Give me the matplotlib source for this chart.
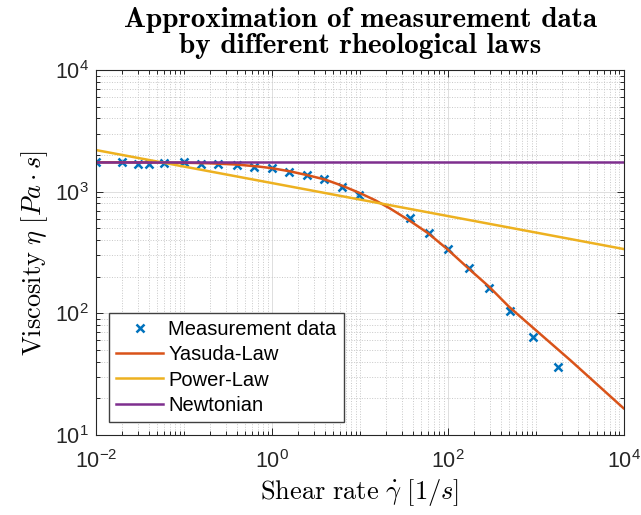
import matplotlib
matplotlib.use("Agg")
import matplotlib.pyplot as plt
from matplotlib.ticker import FixedLocator, FixedFormatter, LogLocator, NullFormatter
import numpy as np

# measured points (shear rate [1/s], viscosity [Pa s])
shear_rate = [0.01, 0.02, 0.03, 0.04, 0.06, 0.1, 0.157, 0.247, 0.40, 0.63,
              1.0, 1.58, 2.5, 3.95, 6.24, 9.9, 37.3, 61.4, 102, 174,
              296, 513, 944, 1815]
viscosity = [1743, 1743, 1688, 1679, 1722, 1743, 1688, 1679, 1648, 1604,
             1556, 1459, 1371, 1264, 1099, 940, 604, 460, 336, 237,
             162, 105, 64.3, 36.5]

# fitted curves
yasuda_rate = [0.01, 0.03, 0.1, 0.2, 0.4, 0.7, 1.0, 1.6, 2.5, 4.0, 6.3, 10,
               15, 22, 37, 60, 100, 170, 300, 500, 1000, 2500, 10000]
yasuda_visc = [1743, 1740, 1730, 1710, 1670, 1610, 1560, 1470, 1370, 1260, 1120, 975,
               850, 729, 577, 455, 335, 236, 164, 113, 73, 41, 16.6]
power_rate = [0.01, 10000]
power_visc = [2198, 338]
newton_rate = [0.01, 10000]
newton_visc = [1743, 1743]

x_ticks = [1e-2, 1e0, 1e2, 1e4]
x_tick_labels = [r"$\mathdefault{10^{-2}}$", r"$\mathdefault{10^{0}}$",
                 r"$\mathdefault{10^{2}}$", r"$\mathdefault{10^{4}}$"]
y_ticks = [1e1, 1e2, 1e3, 1e4]
y_tick_labels = [r"$\mathdefault{10^{1}}$", r"$\mathdefault{10^{2}}$",
                 r"$\mathdefault{10^{3}}$", r"$\mathdefault{10^{4}}$"]
title_lines = ["Approximation of measurement data", "by different rheological laws"]

plt.rcParams['font.family'] = ['Liberation Sans', 'DejaVu Sans']
plt.rcParams['mathtext.fontset'] = 'cm'

axis_col = '#262626'

fig = plt.figure(figsize=(6.41, 5.15), dpi=100)
ax = fig.add_axes([96 / 641, 80 / 515, 527.5 / 641, 365 / 515])

ax.plot(shear_rate, viscosity, 'x', color='#0072BD', ms=6, mew=1.8,
        label='Measurement data')
ax.plot(yasuda_rate, yasuda_visc, color='#D95319', lw=1.8, label='Yasuda-Law')
ax.plot(power_rate, power_visc, color='#EDB120', lw=1.8, label='Power-Law')
ax.plot(newton_rate, newton_visc, color='#7E2F8E', lw=1.8, label='Newtonian')

ax.set_xscale('log')
ax.set_yscale('log')
ax.set_xlim(1e-2, 1e4)
ax.set_ylim(1e1, 1e4)

ax.xaxis.set_major_locator(FixedLocator(x_ticks))
ax.xaxis.set_major_formatter(FixedFormatter(x_tick_labels))
ax.xaxis.set_minor_locator(LogLocator(base=10, subs=np.arange(1, 10), numticks=100))
ax.xaxis.set_minor_formatter(NullFormatter())
ax.yaxis.set_major_locator(FixedLocator(y_ticks))
ax.yaxis.set_major_formatter(FixedFormatter(y_tick_labels))
ax.yaxis.set_minor_locator(LogLocator(base=10, subs=np.arange(2, 10), numticks=100))
ax.yaxis.set_minor_formatter(NullFormatter())

ax.set_axisbelow(True)
ax.grid(True, which='major', color='#dedede', lw=0.7, ls='-')
ax.grid(True, which='minor', color='#c8c8c8', lw=0.7, ls=':')

ax.tick_params(which='both', direction='in', top=True, right=True,
               colors=axis_col, width=0.7)
ax.tick_params(which='major', length=5, labelsize=15.5)
ax.tick_params(axis='x', which='major', pad=11)
ax.tick_params(axis='y', which='major', pad=5)
ax.tick_params(which='minor', length=3)
for sp in ax.spines.values():
    sp.set_color(axis_col)
    sp.set_linewidth(0.8)

# two-line bold title, placed line by line
fig.text(360 / 641, 1 - 27 / 515, title_lines[0], family='cmb10', fontsize=21,
         ha='center', va='baseline')
fig.text(360 / 641, 1 - 53 / 515, title_lines[1], family='cmb10', fontsize=21,
         ha='center', va='baseline')

ax.set_xlabel(r"$\mathrm{Shear\ rate}\ \dot{\gamma}\ [1/s]$", fontsize=19, labelpad=3)
ax.set_ylabel(r"$\mathrm{Viscosity}\ \eta\ [Pa \cdot s]$", fontsize=19, labelpad=4)

leg = ax.legend(loc='lower left', bbox_to_anchor=(0.0246, 0.0356), borderaxespad=0,
                fontsize=14.5, handlelength=2.35, handletextpad=0.25,
                labelspacing=0.32, borderpad=0.35, fancybox=False, framealpha=1)
leg.get_frame().set_edgecolor('#404040')
leg.get_frame().set_linewidth(1.0)

fig.savefig('out.png', dpi=100)
